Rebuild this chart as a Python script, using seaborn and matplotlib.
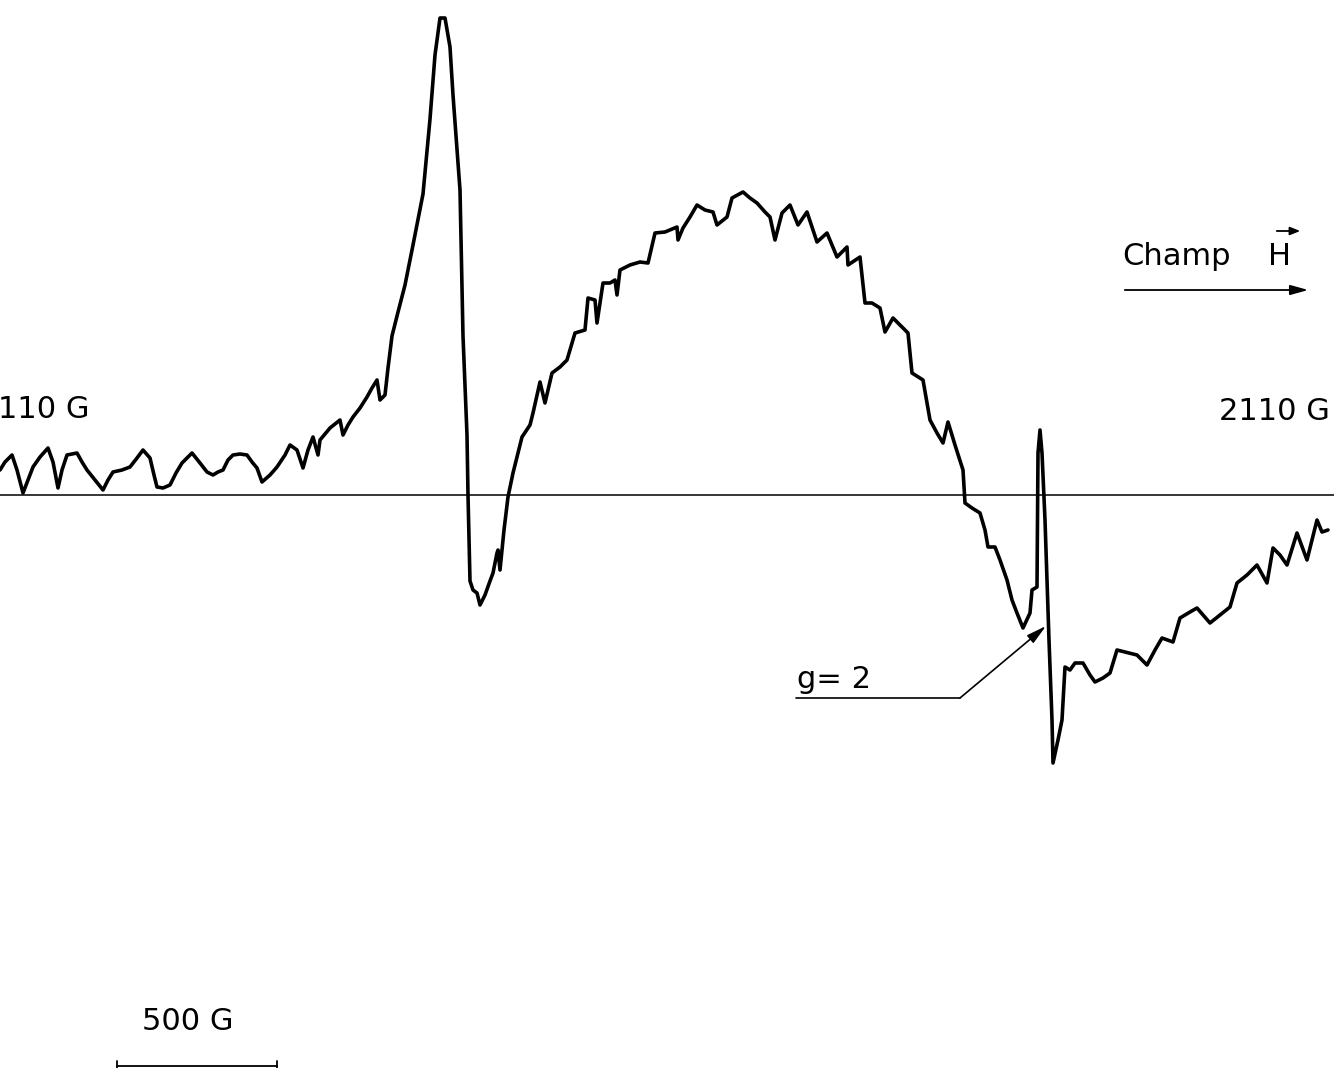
import matplotlib
matplotlib.use("Agg")
import matplotlib.pyplot as plt
import seaborn as sns
import pandas as pd

# Sweep position (arbitrary units along field axis, 110 G -> 2110 G) and EPR signal (arb. units)
sweep = [0, 5, 12, 17, 23, 28, 33, 40, 48, 53, 58, 62, 67, 77, 82, 87, 95, 103, 108, 113,
         122, 130, 137, 143, 150, 154, 157, 163, 170, 176, 182, 192, 200, 207, 213, 218, 223, 228, 233, 240,
         247, 252, 257, 262, 270, 277, 285, 290, 297, 303, 308, 313, 318, 320, 330, 340, 343, 348, 353, 360,
         367, 372, 377, 380, 385, 388, 392, 397, 405, 413, 423, 430, 435, 440, 445, 450, 453, 460, 463, 467,
         468, 470, 473, 477, 480, 485, 490, 493, 497, 498, 500, 504, 508, 513, 522, 530, 533, 540, 545, 552,
         560, 567, 570, 575, 585, 588, 595, 597, 603, 610, 615, 617, 620, 630, 640, 648, 655, 665, 677, 678,
         683, 690, 697, 705, 713, 717, 727, 732, 743, 750, 757, 765, 770, 775, 782, 790, 798, 807, 817, 827,
         837, 847, 848, 860, 865, 872, 880, 885, 893, 900, 908, 912, 923, 930, 937, 943, 948, 955, 963, 965,
         972, 980, 985, 988, 995, 1000, 1007, 1012, 1017, 1023, 1030, 1032, 1037, 1038, 1040, 1042, 1045, 1049, 1052, 1053,
         1058, 1062, 1065, 1070, 1075, 1083, 1090, 1095, 1103, 1110, 1117, 1125, 1137, 1147, 1155, 1162, 1173, 1180, 1190, 1197,
         1210, 1220, 1230, 1237, 1247, 1257, 1267, 1273, 1280, 1287, 1297, 1307, 1312, 1317, 1322, 1328]

signal = [25, 33, 40, 25, 2, 15, 28, 38, 47, 33, 7, 25, 40, 42, 33, 25, 15, 5, 15, 23,
          25, 28, 37, 45, 37, 20, 8, 7, 10, 22, 32, 42, 32, 23, 20, 23, 25, 35, 40, 41,
          40, 33, 27, 13, 20, 28, 40, 50, 45, 27, 45, 58, 40, 55, 67, 75, 60, 70, 78, 87,
          98, 107, 115, 95, 100, 127, 159, 179, 210, 250, 301, 376, 440, 477, 477, 448, 400, 305, 159, 60,
          0, -86, -95, -98, -110, -100, -86, -78, -58, -55, -75, -35, -2, 22, 58, 70, 82, 113, 92, 122,
          128, 135, 145, 162, 165, 197, 195, 172, 212, 212, 215, 200, 225, 230, 233, 232, 262, 263, 268, 255,
          267, 278, 290, 285, 283, 270, 278, 297, 303, 297, 292, 283, 278, 255, 282, 290, 270, 283, 253, 262,
          238, 248, 230, 238, 192, 192, 187, 163, 177, 170, 162, 122, 115, 75, 62, 52, 73, 50, 25, -8,
          -13, -18, -35, -52, -52, -65, -85, -105, -118, -133, -118, -95, -92, 42, 65, 42, -25, -145, -225, -268,
          -245, -225, -172, -175, -168, -168, -180, -187, -183, -178, -155, -157, -160, -170, -155, -143, -147, -123, -117, -113,
          -128, -120, -112, -88, -80, -70, -88, -53, -60, -70, -38, -65, -45, -25, -37, -35]

labels_left = "110 G"
labels_right = "2110 G"
label_field = "Champ"
label_vec = "H"
label_g = "g= 2"
label_scale = "500 G"

df = pd.DataFrame({"sweep": sweep, "signal": signal})

sns.set_theme(style="white")
plt.rcParams["font.family"] = ["DejaVu Sans"]

W, H = 1334, 1068
fig = plt.figure(figsize=(W / 100, H / 100), dpi=100)
ax = fig.add_axes([0, 0, 1, 1])
ax.set_xlim(0, W)
ax.set_ylim(495 - H, 495)
ax.axis("off")

# baseline
ax.axhline(0, color="black", lw=1.1, zorder=1)

sns.lineplot(data=df, x="sweep", y="signal", sort=False, estimator=None,
             color="black", lw=2.6, ax=ax, zorder=3)

fs = 22
ax.text(-2, 85, labels_left, fontsize=fs, ha="left", va="center", color="black")
ax.text(1330, 84, labels_right, fontsize=fs, ha="right", va="center", color="black")

# Champ H with vector arrow
ax.text(1122, 230, label_field, fontsize=fs, ha="left", va="baseline", color="black")
ax.text(1268, 230, label_vec, fontsize=fs, ha="left", va="baseline", color="black")
ax.annotate("", xy=(1303, 264), xytext=(1274, 264),
            arrowprops=dict(arrowstyle="-|>,head_length=0.5,head_width=0.2", color="black", lw=1.3))
ax.annotate("", xy=(1311, 205), xytext=(1122, 205),
            arrowprops=dict(arrowstyle="-|>,head_length=0.9,head_width=0.25", color="black", lw=1.3))

# g = 2 marker
ax.text(797, -193, label_g, fontsize=fs, ha="left", va="baseline", color="black")
ax.plot([796, 960], [-203, -203], color="black", lw=1.2)
ax.annotate("", xy=(1046, -131), xytext=(960, -203),
            arrowprops=dict(arrowstyle="-|>,head_length=1.0,head_width=0.25", color="black", lw=1.2,
                            shrinkA=0, shrinkB=0))

# scale bar
ax.text(188, -527, label_scale, fontsize=fs, ha="center", va="center", color="black")
ax.plot([117, 277], [-571, -571], color="black", lw=1.3)
ax.plot([117, 117], [-576, -566], color="black", lw=1.3)
ax.plot([277, 277], [-576, -566], color="black", lw=1.3)

fig.savefig("out.png", dpi=100, facecolor="white")
